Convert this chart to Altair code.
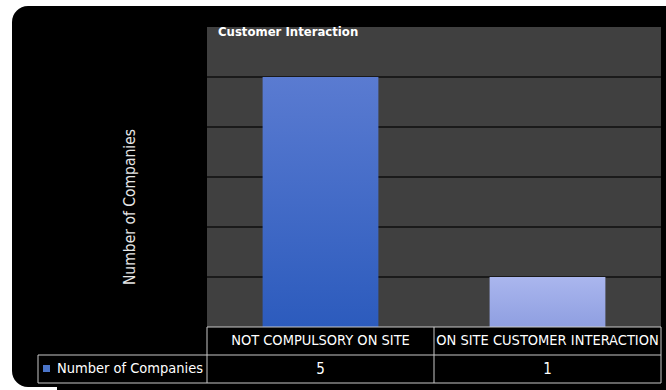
import altair as alt
import pandas as pd

categories = ["NOT COMPULSORY ON SITE", "ON SITE CUSTOMER INTERACTION"]
values = [5, 1]
grid_values = [1, 2, 3, 4, 5]
series_name = "Number of Companies"
chart_title = "Customer Interaction"

df = pd.DataFrame({"category": categories, "value": values})
grid_df = pd.DataFrame({"g": grid_values})
one = pd.DataFrame({"k": [0]})

FONT = "Liberation Sans Narrow, DejaVu Sans Condensed, sans-serif"
W, H = 454, 300

xscale = alt.Scale(domain=categories, paddingInner=0.49, paddingOuter=0.245)
yscale = alt.Scale(domain=[0, 6], nice=False)

# white page margins (top and left) and the rounded black panel
white_bg = alt.Chart(one).mark_rect(fill="white", clip=False).encode(
    x=alt.value(-207), x2=alt.value(-180), y=alt.value(-27), y2=alt.value(363)
)
white_top = alt.Chart(one).mark_rect(fill="white", clip=False).encode(
    x=alt.value(-207), x2=alt.value(470), y=alt.value(-27), y2=alt.value(-5)
)
white_bottom = alt.Chart(one).mark_rect(fill="white", clip=False).encode(
    x=alt.value(-207), x2=alt.value(-150), y=alt.value(340), y2=alt.value(363)
)
panel = alt.Chart(one).mark_rect(fill="black", cornerRadius=16, clip=False).encode(
    x=alt.value(-195), x2=alt.value(490), y=alt.value(-21), y2=alt.value(360)
)
plotbg = alt.Chart(one).mark_rect(fill="#404040").encode(
    x=alt.value(0), x2=alt.value(W), y=alt.value(0), y2=alt.value(H)
)
grid = alt.Chart(grid_df).mark_rule(color="#1a1a1a", strokeWidth=2).encode(
    y=alt.Y("g:Q", scale=yscale, axis=None), x=alt.value(0), x2=alt.value(W)
)

def bar_layer(cat, top, bottom):
    return alt.Chart(df).transform_filter(alt.datum.category == cat).mark_bar(
        color=alt.Gradient(gradient="linear", x1=0, x2=0, y1=0, y2=1,
                           stops=[alt.GradientStop(color=top, offset=0),
                                  alt.GradientStop(color=bottom, offset=1)])
    ).encode(
        x=alt.X("category:N", scale=xscale, axis=None, sort=categories),
        y=alt.Y("value:Q", scale=yscale, axis=None),
    )

bar1 = bar_layer(categories[0], "#5a7bd1", "#2c5bbd")
bar2 = bar_layer(categories[1], "#aab6ee", "#8f9fe1")

line_color = "#c8c8c8"
hlines = [
    (0, W, 300),
    (-169, W, 328),
    (-169, W, 356),
]
rules = []
for x1, x2, yv in hlines:
    rules.append(alt.Chart(one).mark_rule(color=line_color, strokeWidth=1).encode(
        x=alt.value(x1), x2=alt.value(x2), y=alt.value(yv)))
vlines = [(0, 300, 356), (227, 300, 356), (W, 300, 356), (-169, 328, 356)]
for xv, y1, y2 in vlines:
    rules.append(alt.Chart(one).mark_rule(color=line_color, strokeWidth=1).encode(
        x=alt.value(xv), y=alt.value(y1), y2=alt.value(y2)))

cat_text = alt.Chart(df).mark_text(color="white", font=FONT, fontSize=14.5, baseline="middle").encode(
    x=alt.X("category:N", scale=xscale, axis=None, sort=categories),
    y=alt.value(314), text="category:N"
)
val_text = alt.Chart(df).mark_text(color="white", font=FONT, fontSize=15, baseline="middle").encode(
    x=alt.X("category:N", scale=xscale, axis=None, sort=categories),
    y=alt.value(342), text="value:Q"
)
legend_sq = alt.Chart(one).mark_rect(fill="#4a74c8").encode(
    x=alt.value(-164), x2=alt.value(-157), y=alt.value(338), y2=alt.value(345)
)
legend_text = alt.Chart(one).mark_text(color="white", font=FONT, fontSize=14.5, align="left",
                                       baseline="middle", text=series_name).encode(
    x=alt.value(-150), y=alt.value(342)
)
title_text = alt.Chart(one).mark_text(color="white", font=FONT, fontSize=13, fontWeight="bold",
                                      align="left", baseline="alphabetic", text=chart_title).encode(
    x=alt.value(11), y=alt.value(9)
)
ytitle = alt.Chart(one).mark_text(color="#e6e6e6", font=FONT, fontSize=15.5, angle=270,
                                  align="center", baseline="middle", text=series_name).encode(
    x=alt.value(-77), y=alt.value(180)
)

chart = alt.layer(white_bg, white_top, white_bottom, panel, plotbg, grid, bar1, bar2, *rules,
                  cat_text, val_text, legend_sq, legend_text, title_text, ytitle).properties(
    width=W, height=H,
    autosize=alt.AutoSizeParams(type="none"),
    padding={"left": 207, "top": 27, "right": 5, "bottom": 63},
    background="black",
).configure_view(stroke=None)

chart.save("out.html", embed_options={"renderer": "svg", "actions": False})
